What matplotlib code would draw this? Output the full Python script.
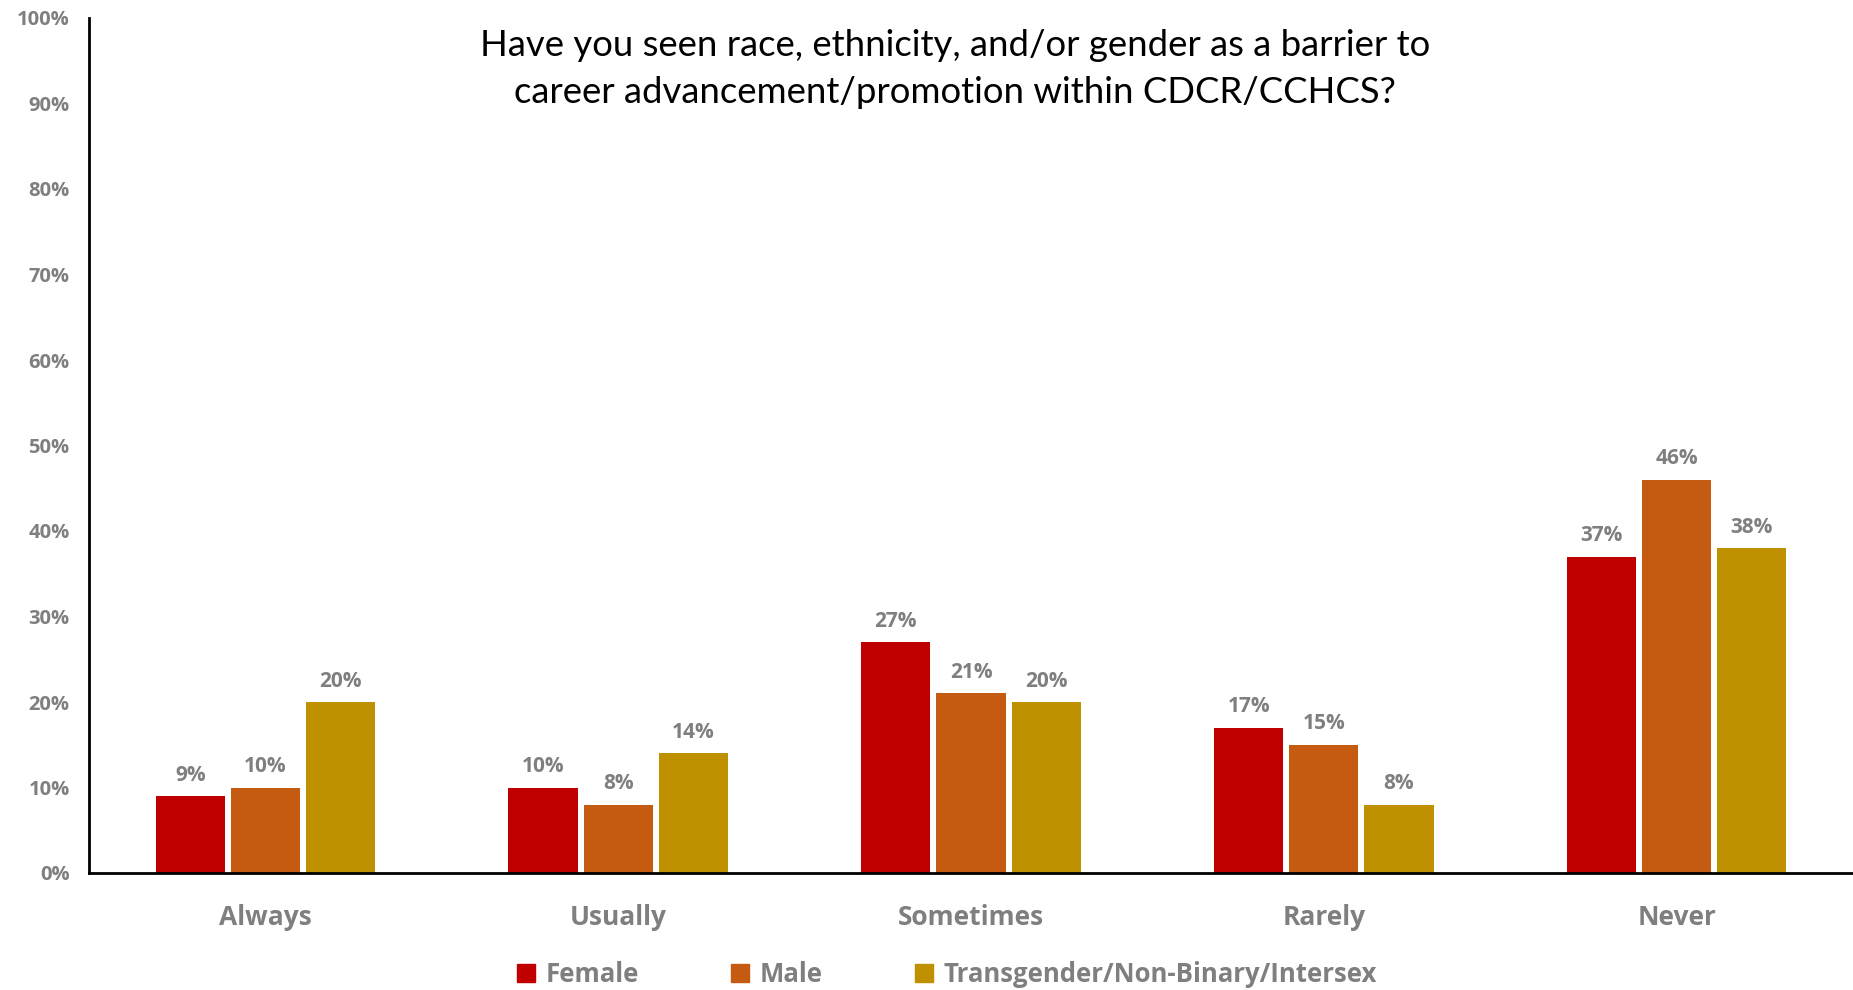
import numpy as np
import matplotlib.pyplot as plt
from matplotlib.ticker import PercentFormatter
from matplotlib.patches import Patch

plt.rcParams['font.family'] = ['Open Sans', 'DejaVu Sans']

categories = ['Always', 'Usually', 'Sometimes', 'Rarely', 'Never']
series = ['Female', 'Male', 'Transgender/Non-Binary/Intersex']
female = [9, 10, 27, 17, 37]
male = [10, 8, 21, 15, 46]
trans = [20, 14, 20, 8, 38]
colors = ['#C00000', '#C55A11', '#BF9000']
grey = '#7F7F7F'

fig = plt.figure(figsize=(18.53, 9.9), dpi=100)
ax = fig.add_axes([89 / 1853, 1 - 873 / 990, 1 - 89 / 1853, 855 / 990])

x = np.arange(len(categories))
width = 0.196
step = 0.213
for i, (vals, col) in enumerate(zip([female, male, trans], colors)):
    pos = x + (i - 1) * step
    ax.bar(pos, vals, width=width, color=col, zorder=2)
    for p, v in zip(pos, vals):
        ax.text(p, v + 1.2, f'{v}%', ha='center', va='bottom',
                fontsize=15, fontweight='bold', color=grey)

ax.set_xlim(-0.5, 4.5)
ax.set_ylim(0, 100)
ax.set_yticks(np.arange(0, 101, 10))
ax.yaxis.set_major_formatter(PercentFormatter(decimals=0))
ax.set_xticks(x)
ax.set_xticklabels(categories)
ax.tick_params(axis='y', length=0, pad=14, labelsize=14.5, labelcolor=grey)
ax.tick_params(axis='x', length=0, pad=22, labelsize=19, labelcolor=grey)
for lbl in ax.get_xticklabels() + ax.get_yticklabels():
    lbl.set_fontweight('bold')

for s in ['top', 'right']:
    ax.spines[s].set_visible(False)
ax.spines['left'].set_linewidth(2)
ax.spines['bottom'].set_linewidth(2)

fig.text(955 / 1853, 1 - 69 / 990,
         'Have you seen race, ethnicity, and/or gender as a barrier to\n'
         'career advancement/promotion within CDCR/CCHCS?',
         ha='center', va='center', fontsize=26.3, color='black', linespacing=1.5,
         family=['Lato', 'DejaVu Sans'])

handles = [Patch(color=c) for c in colors]
leg = fig.legend(handles, series, loc='center', bbox_to_anchor=(0.511, 1 - 974 / 990),
                 ncol=3, frameon=False, fontsize=18.5, handlelength=0.7, handleheight=0.7,
                 columnspacing=3.6, handletextpad=0.4)
for t in leg.get_texts():
    t.set_color(grey)
    t.set_fontweight('bold')

fig.savefig('out.png', dpi=100)
